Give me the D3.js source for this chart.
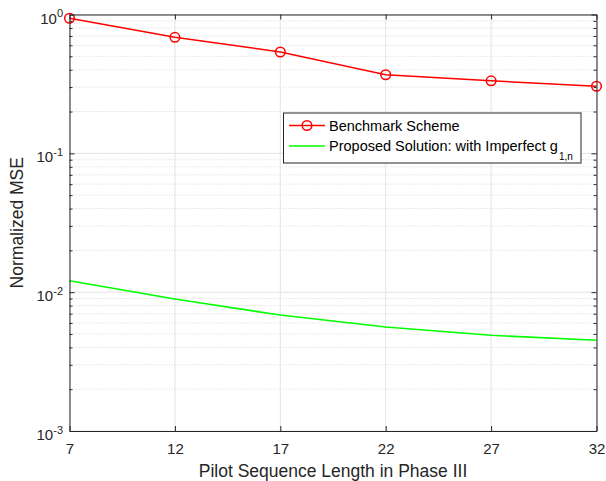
<!DOCTYPE html>
<html>
<head>
<meta charset="utf-8">
<script src="https://cdn.jsdelivr.net/npm/d3@7"></script>
<style>
  body { margin: 0; background: #fff; }
  svg { display: block; font-family: "Liberation Sans", Arial, Helvetica, sans-serif; }
</style>
</head>
<body>
<svg width="606" height="481"></svg>
<script>
const pilotLengths = [7, 12, 17, 22, 27, 32];
const benchmark = [0.939, 0.685, 0.537, 0.368, 0.333, 0.304];
const proposed = [0.01208, 0.00892, 0.00684, 0.00561, 0.00489, 0.0045];
const xTicks = [7, 12, 17, 22, 27, 32];
const yDecades = [1e-3, 1e-2, 1e-1, 1];
const yExponents = ["-3", "-2", "-1", "0"];
const legendNames = ["Benchmark Scheme", "Proposed Solution: with Imperfect g"];

const svg = d3.select("svg");
const plotLeft = 69.5, plotRight = 596.5, plotTop = 14.5, plotBottom = 431;
const axisColor = "#262626";

const x = d3.scaleLinear().domain([7, 32]).range([plotLeft, plotRight]);
const y = d3.scaleLog().domain([1e-3, 1]).range([plotBottom, plotTop]);

const yMinor = [];
yDecades.slice(0, 3).forEach(d => {
  for (let k = 2; k <= 9; k++) yMinor.push(d * k);
});

// grid
const grid = svg.append("g");
grid.selectAll(".minor")
  .data(yMinor)
  .enter()
  .append("line")
  .attr("x1", plotLeft).attr("x2", plotRight)
  .attr("y1", d => y(d)).attr("y2", d => y(d))
  .attr("stroke", "#d4d4d4")
  .attr("stroke-dasharray", "1,2");
grid.selectAll(".ymajor")
  .data(yDecades)
  .enter()
  .append("line")
  .attr("x1", plotLeft).attr("x2", plotRight)
  .attr("y1", d => y(d)).attr("y2", d => y(d))
  .attr("stroke", "#e3e3e3");
grid.selectAll(".xmajor")
  .data(xTicks)
  .enter()
  .append("line")
  .attr("x1", d => x(d)).attr("x2", d => x(d))
  .attr("y1", plotTop).attr("y2", plotBottom)
  .attr("stroke", "#e3e3e3");

// data
const line = d3.line().x((d, i) => x(pilotLengths[i])).y(d => y(d));

svg.append("path")
  .attr("d", line(proposed))
  .attr("fill", "none")
  .attr("stroke", "#00ff00")
  .attr("stroke-width", 1.6);

svg.append("path")
  .attr("d", line(benchmark))
  .attr("fill", "none")
  .attr("stroke", "#ff0000")
  .attr("stroke-width", 1.5);

svg.selectAll(".marker")
  .data(benchmark)
  .enter()
  .append("circle")
  .attr("cx", (d, i) => x(pilotLengths[i]))
  .attr("cy", d => y(d))
  .attr("r", 4.8)
  .attr("fill", "none")
  .attr("stroke", "#ff0000")
  .attr("stroke-width", 1.5);

// axes
function styleAxis(g) {
  g.selectAll("path, line").attr("stroke", axisColor);
  g.selectAll("text").attr("fill", axisColor);
}

svg.append("g")
  .attr("transform", `translate(0,${plotBottom})`)
  .call(d3.axisBottom(x).tickValues(xTicks).tickSize(-5).tickSizeOuter(0).tickPadding(12))
  .call(g => g.selectAll("text").attr("font-size", 15))
  .call(g => g.attr("font-family", null).attr("font-size", null))
  .call(styleAxis);

svg.append("g")
  .attr("transform", `translate(0,${plotTop})`)
  .call(d3.axisTop(x).tickValues(xTicks).tickSize(-5).tickSizeOuter(0).tickFormat(""))
  .call(styleAxis);

svg.append("g")
  .attr("transform", `translate(${plotLeft},0)`)
  .call(d3.axisLeft(y).tickValues(yDecades).tickSize(-5).tickSizeOuter(0).tickFormat(""))
  .call(styleAxis);

svg.append("g")
  .attr("transform", `translate(${plotLeft},0)`)
  .call(d3.axisLeft(y).tickValues(yMinor).tickSize(-3).tickSizeOuter(0).tickFormat(""))
  .call(g => g.select(".domain").remove())
  .call(styleAxis);

svg.append("g")
  .attr("transform", `translate(${plotRight},0)`)
  .call(d3.axisRight(y).tickValues(yDecades).tickSize(-5).tickSizeOuter(0).tickFormat(""))
  .call(styleAxis);

svg.append("g")
  .attr("transform", `translate(${plotRight},0)`)
  .call(d3.axisRight(y).tickValues(yMinor).tickSize(-3).tickSizeOuter(0).tickFormat(""))
  .call(g => g.select(".domain").remove())
  .call(styleAxis);

// y tick labels 10^n
const yLabel = svg.append("g").selectAll("text")
  .data(yDecades)
  .enter()
  .append("text")
  .attr("x", plotLeft - 6.5)
  .attr("y", d => y(d) + 9)
  .attr("text-anchor", "end")
  .attr("fill", axisColor)
  .attr("font-size", 15);
yLabel.append("tspan").text("10");
yLabel.append("tspan")
  .attr("font-size", 11)
  .attr("dy", -6.5)
  .text((d, i) => yExponents[i]);

// axis titles
svg.append("text")
  .attr("x", (plotLeft + plotRight) / 2)
  .attr("y", 477)
  .attr("text-anchor", "middle")
  .attr("font-size", 17.5)
  .attr("fill", axisColor)
  .text("Pilot Sequence Length in Phase III");

svg.append("text")
  .attr("transform", `translate(23,${(plotTop + plotBottom) / 2}) rotate(-90)`)
  .attr("text-anchor", "middle")
  .attr("font-size", 17.5)
  .attr("fill", axisColor)
  .text("Normalized MSE");

// legend
const legend = svg.append("g");
legend.append("rect")
  .attr("x", 283.5).attr("y", 113)
  .attr("width", 297.5).attr("height", 50)
  .attr("fill", "#fff")
  .attr("stroke", axisColor)
  .attr("stroke-width", 1);

const rowsY = [125.5, 146];
const colors = ["#ff0000", "#00ff00"];
rowsY.forEach((ry, i) => {
  legend.append("line")
    .attr("x1", 289).attr("x2", 325)
    .attr("y1", ry).attr("y2", ry)
    .attr("stroke", colors[i])
    .attr("stroke-width", 1.5);
  const t = legend.append("text")
    .attr("x", 329)
    .attr("y", ry + 5.3)
    .attr("font-size", 14.5)
    .attr("fill", "#000")
    .text(legendNames[i]);
  if (i === 1) {
    t.append("tspan")
      .attr("font-size", 10)
      .attr("dx", 1)
      .attr("dy", 8.5)
      .text("1,n");
  }
});
legend.append("circle")
  .attr("cx", 307).attr("cy", rowsY[0])
  .attr("r", 4.8)
  .attr("fill", "none")
  .attr("stroke", "#ff0000")
  .attr("stroke-width", 1.5);
</script>
</body>
</html>
